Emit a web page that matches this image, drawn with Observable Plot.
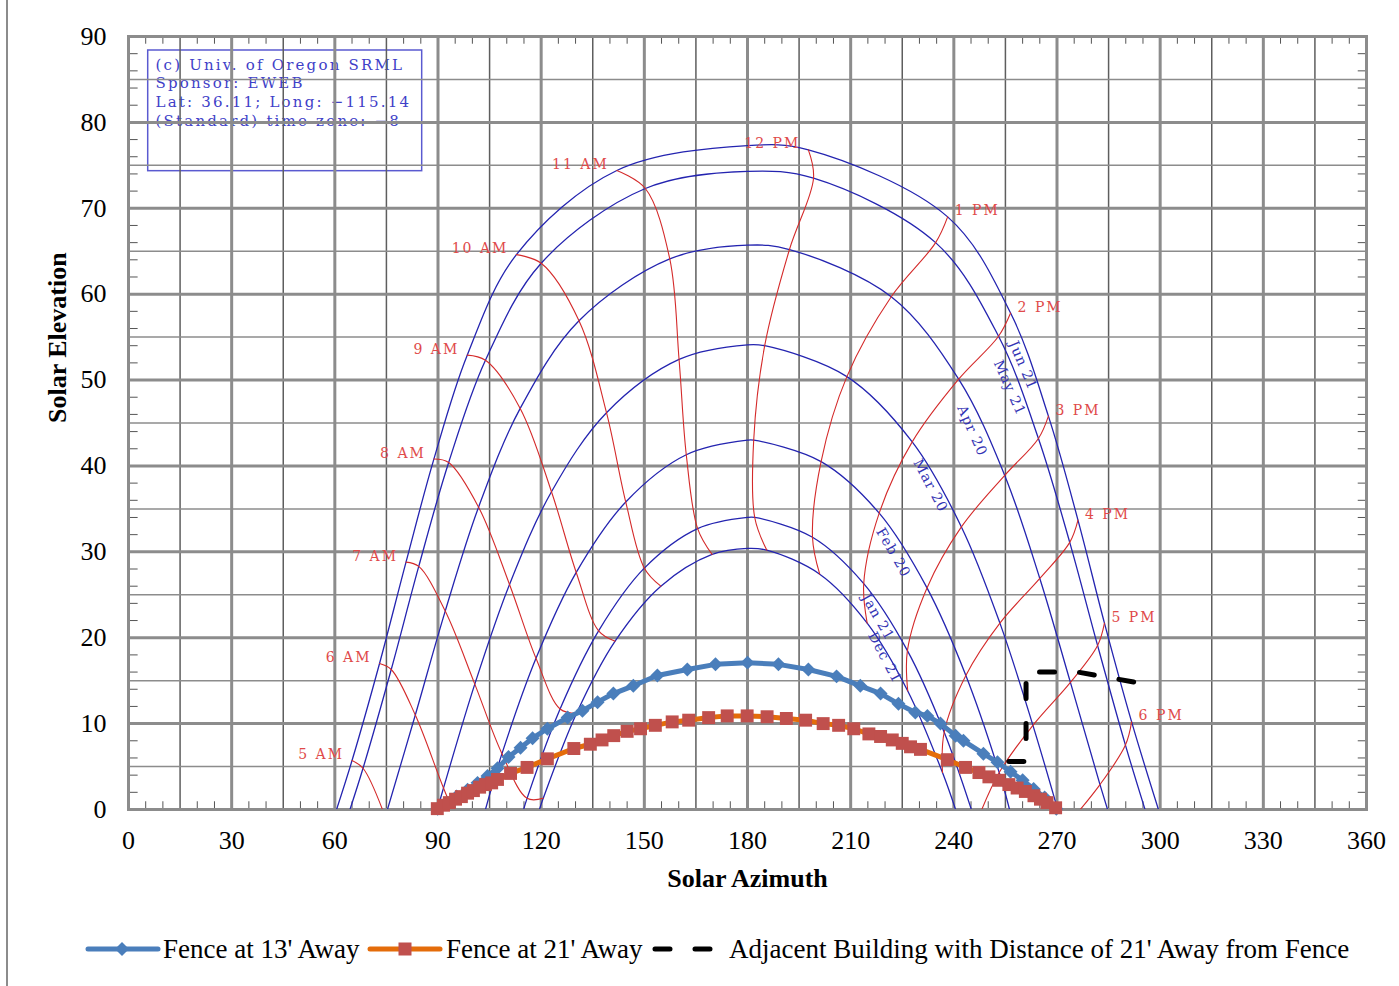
<!DOCTYPE html>
<html>
<head>
<meta charset="utf-8">
<script src="https://cdn.jsdelivr.net/npm/d3@7"></script>
<script src="https://cdn.jsdelivr.net/npm/@observablehq/plot@0.6"></script>
<style>
  body { margin: 0; background: #fff; overflow: hidden; }
  #wrap { position: relative; width: 1399px; height: 986px; }
  #edge { position: absolute; left: 6px; top: 0; width: 2px; height: 986px; background: #8c8c8c; }
  #legend { display: block; }
</style>
</head>
<body>
<div id="wrap"></div>
<script>
// Sun path dates (blue curves), Las Vegas, lat 36.11 / long -115.14
const dates = ["Jun 21", "May 21", "Apr 20", "Mar 20", "Feb 20", "Jan 21", "Dec 21"];
const sunriseAz = [60.5, 64.4, 75.3, 89.8, 103.8, 114.9, 119.5];
const sunsetAz = [299.5, 295.6, 284.7, 270.2, 256.2, 245.1, 240.5];
const noonEl = [77.3, 74.3, 65.7, 54.1, 43.0, 34.0, 30.4];

// Hour lines (red), standard time
const hourLabels = ["5 AM", "6 AM", "7 AM", "8 AM", "9 AM", "10 AM", "11 AM",
                    "12 PM", "1 PM", "2 PM", "3 PM", "4 PM", "5 PM", "6 PM"];

// Sun position [azimuth, elevation] at each hour above (null = not drawn)
const jun21 = [[65.0, 5.7], [73.0, 17.0], [80.7, 28.8], [88.8, 40.8], [98.5, 52.9], [112.8, 64.6], [142.0, 74.4],
               [197.7, 76.8], [238.2, 69.0], [256.5, 57.8], [267.5, 45.8], [276.1, 33.7], [283.8, 21.7], [291.7, 10.2]];
const may21 = [[68.2, 4.8], [76.4, 16.3], [84.4, 28.3], [93.1, 40.4], [103.8, 52.3], [120.0, 63.6], [150.3, 72.3],
               [199.2, 73.5], [234.7, 66.0], [253.0, 55.1], [264.6, 43.2], [273.7, 31.1], [281.8, 19.1], [289.9, 7.5]];
const apr20 = [[74.7, -0.9], [83.4, 11.0], [92.1, 23.1], [101.8, 35.2], [113.9, 46.7], [131.0, 56.9], [157.4, 64.1],
               [192.2, 65.2], [221.8, 59.7], [241.4, 50.1], [254.8, 38.9], [265.0, 26.9], [273.9, 14.8], [282.5, 2.9]];
const mar20 = [null, [91.6, 2.5], [100.7, 14.6], [110.8, 26.2], [123.0, 37.0], [139.0, 46.2], [160.1, 52.4],
               [185.0, 54.0], [208.9, 50.4], [227.9, 42.8], [242.2, 32.9], [253.4, 21.7], [263.0, 9.8], [271.9, -2.3]];
const feb20 = [null, [99.7, -5.3], [108.6, 6.5], [118.5, 17.6], [130.2, 27.6], [144.6, 35.8], [162.2, 41.3],
               [181.8, 43.0], [201.4, 40.5], [218.3, 34.5], [232.2, 25.8], [243.5, 15.6], [253.2, 4.3], null];
const jan21 = [null, null, [115.9, 1.3], [125.5, 11.7], [136.7, 20.8], [150.0, 28.1], [165.5, 32.7],
               [182.1, 34.0], [198.9, 31.7], [213.8, 26.3], [226.5, 18.5], [237.2, 9.0], [246.4, -1.7], null];
const dec21 = [null, null, [120.6, 1.3], [130.3, 11.2], [141.5, 19.6], [154.8, 26.0], [169.7, 29.7],
               [185.6, 30.2], [201.0, 27.4], [214.8, 21.7], [226.6, 13.8], [236.7, 4.3], null, null];
const dateTables = [jun21, may21, apr20, mar20, feb20, jan21, dec21];

// Shading obstructions [azimuth, elevation]
const fence13 = [[89.9, 0.1], [92.8, 0.8], [95.4, 1.5], [98.6, 2.3], [101.5, 3.1], [104.4, 3.9], [107.3, 4.8],
  [110.5, 6.1], [114.0, 7.2], [117.5, 8.3], [121.8, 9.4], [127.7, 10.7], [132.0, 11.5], [136.4, 12.5],
  [141.0, 13.5], [146.8, 14.4], [153.8, 15.6], [162.5, 16.3], [170.7, 16.9], [180.0, 17.1], [189.0, 16.9],
  [197.7, 16.3], [205.9, 15.5], [212.8, 14.4], [218.7, 13.5], [223.9, 12.3], [228.8, 11.3], [232.3, 10.9],
  [236.1, 10.0], [240.5, 8.6], [242.8, 8.0], [248.6, 6.5], [252.7, 5.5], [256.5, 4.4], [260.0, 3.4],
  [263.2, 2.4], [266.4, 1.4], [269.8, 0.1]];
const fence21 = [[89.8, 0.1], [91.6, 0.5], [93.3, 0.8], [95.1, 1.2], [96.8, 1.5], [98.6, 1.9], [100.3, 2.2],
  [102.1, 2.6], [103.8, 2.9], [105.6, 3.1], [107.3, 3.5], [111.1, 4.2], [115.9, 4.9], [121.8, 5.9],
  [129.5, 7.1], [134.3, 7.6], [137.7, 8.1], [141.1, 8.6], [145.0, 9.1], [148.9, 9.4], [153.2, 9.8],
  [158.1, 10.2], [162.9, 10.4], [168.7, 10.7], [174.1, 10.9], [179.9, 10.9], [185.7, 10.8], [191.3, 10.6],
  [196.9, 10.4], [202.0, 10.0], [206.5, 9.8], [210.9, 9.4], [215.3, 8.8], [218.7, 8.5], [222.1, 8.1],
  [225.0, 7.7], [227.4, 7.3], [230.3, 7.0], [238.1, 5.8], [243.4, 4.9], [247.3, 4.3], [250.2, 3.8],
  [253.1, 3.4], [256.0, 2.9], [258.4, 2.5], [260.8, 2.1], [263.3, 1.6], [265.2, 1.2], [267.1, 0.8], [269.6, 0.2]];
const building = [[256.0, 5.6], [261.0, 5.6], [261.0, 16.0], [276.0, 16.0], [294.4, 14.7]];

const infoLines = ["(c) Univ. of Oregon SRML", "Sponsor: EWEB", "Lat: 36.11; Long: \u2212115.14", "(Standard) time zone: \u22128"];

const seriesNames = ["Fence at 13' Away", "Fence at 21' Away", "Adjacent Building with Distance of 21' Away from Fence"];

// ---- derived tables ----
const datePaths = dates.flatMap((name, k) => {
  const pts = dateTables[k].filter(p => p && p[1] >= 0).map(p => ({az: p[0], el: p[1]}));
  pts.push({az: sunriseAz[k], el: 0}, {az: 180, el: noonEl[k]}, {az: sunsetAz[k], el: 0});
  pts.sort((a, b) => a.az - b.az);
  return pts.map(p => ({...p, date: name}));
});

const hourPaths = hourLabels.flatMap((label, h) => {
  const pts = [];
  for (const t of dateTables) {
    const p = t[h];
    if (!p) break;
    pts.push({az: p[0], el: p[1], hour: label});
    if (p[1] < 0) break;
  }
  return pts;
});

const hourTops = hourLabels.map((label, h) => ({az: jun21[h][0], el: jun21[h][1], label, h}));

const pts = arr => arr.map(([az, el]) => ({az, el}));

const dateLabels = [
  {az: 260.1, el: 51.7, rot: 67, text: dates[0]},
  {az: 256.2, el: 49.1, rot: 66, text: dates[1]},
  {az: 245.3, el: 44.1, rot: 66, text: dates[2]},
  {az: 233.2, el: 37.7, rot: 62, text: dates[3]},
  {az: 222.4, el: 29.9, rot: 60, text: dates[4]},
  {az: 217.9, el: 22.4, rot: 60, text: dates[5]},
  {az: 219.9, el: 17.7, rot: 62, text: dates[6]}
];

const serif = "'Liberation Serif', 'Times New Roman', serif";
const plotter = "'DejaVu Serif', serif";
const minorX = d3.range(5, 360, 5).filter(v => v % 15);
const minorY = d3.range(2, 90, 2).filter(v => v % 10);
const ink = {stroke: "#555", strokeWidth: 1};

const chart = Plot.plot({
  width: 1399,
  height: 910,
  marginLeft: 128,
  marginRight: 33,
  marginTop: 36,
  marginBottom: 101,
  style: {fontFamily: serif, fontSize: "26px", background: "white", color: "black"},
  x: {domain: [0, 360], ticks: d3.range(0, 361, 30), tickSize: 0, tickPadding: 21, label: null},
  y: {domain: [0, 90], ticks: d3.range(0, 91, 10), tickSize: 0, tickPadding: 22, label: null},
  marks: [
    // info box
    Plot.rect([{x1: 5.73, x2: 85.4, y1: 74.32, y2: 88.37}], {x1: "x1", x2: "x2", y1: "y1", y2: "y2", fill: "white", stroke: "#5a5ad0", strokeWidth: 1.5}),
    Plot.text(infoLines, {x: 7.85, y: (d, i) => 86.7 - i * 2.17, text: d => d, textAnchor: "start", fill: "#4040c8", fontSize: 15, fontFamily: plotter}),

    // grid
    Plot.ruleX(d3.range(15, 360, 30), {stroke: "#5e5e5e", strokeWidth: 1.5}),
    Plot.ruleY(d3.range(5, 90, 10), {stroke: "#8c8c8c", strokeWidth: 1.5}),
    Plot.ruleX(d3.range(30, 360, 30), {stroke: "#8c8c8c", strokeWidth: 3}),
    Plot.ruleY(d3.range(10, 90, 10), {stroke: "#8c8c8c", strokeWidth: 3}),
    Plot.ruleX(minorX, {y1: 0, y2: 0.9, ...ink}),
    Plot.ruleX(minorX, {y1: 89.1, y2: 90, ...ink}),
    Plot.ruleY(minorY, {x1: 0, x2: 2.8, ...ink}),
    Plot.ruleY(minorY, {x1: 357.6, x2: 360, ...ink}),
    Plot.frame({stroke: "#8c8c8c", strokeWidth: 3}),

    // sun path diagram
    Plot.line(datePaths, {x: "az", y: "el", z: "date", stroke: "#2424b0", strokeWidth: 1.3, curve: "catmull-rom", clip: true}),
    Plot.line(hourPaths, {x: "az", y: "el", z: "hour", stroke: "#d42a2a", strokeWidth: 1.1, curve: "catmull-rom", clip: true}),
    Plot.text(hourTops.filter(d => d.h <= 7), {x: "az", y: "el", text: "label", textAnchor: "end", dx: -8, dy: -6, fill: "#e04a4a", fontSize: 14, fontFamily: plotter}),
    Plot.text(hourTops.filter(d => d.h > 7), {x: "az", y: "el", text: "label", textAnchor: "start", dx: 7, dy: -6, fill: "#e04a4a", fontSize: 14, fontFamily: plotter}),
    Plot.text(dateLabels, {x: "az", y: "el", text: "text", rotate: "rot", fill: "#3434b4", fontSize: 14, fontFamily: plotter}),

    // obstructions
    Plot.line(pts(fence13), {x: "az", y: "el", stroke: "#4a7ebb", strokeWidth: 5, strokeLinejoin: "round", strokeLinecap: "round"}),
    Plot.dot(pts(fence13), {x: "az", y: "el", symbol: "diamond2", r: 6.3, fill: "#4a7ebb", stroke: "none"}),
    Plot.line(pts(fence21), {x: "az", y: "el", stroke: "#e46c0a", strokeWidth: 5, strokeLinejoin: "round", strokeLinecap: "round"}),
    Plot.dot(pts(fence21), {x: "az", y: "el", symbol: "square", r: 7.3, fill: "#c0504d", stroke: "none"}),
    Plot.line(pts(building), {x: "az", y: "el", stroke: "black", strokeWidth: 5, strokeDasharray: "15,25", strokeLinecap: "round", strokeLinejoin: "round"}),

    // axis titles
    Plot.text(["Solar Azimuth"], {frameAnchor: "bottom", dy: 77, text: d => d, fontWeight: "bold", fontSize: 26, fontFamily: serif}),
    Plot.text(["Solar Elevation"], {frameAnchor: "left", dx: -71, rotate: -90, text: d => d, fontWeight: "bold", fontSize: 26, fontFamily: serif})
  ]
});

// letter spacing for the plotter-style annotations
const spacing = new Map([
  ...hourLabels.map(t => [t, 2]),
  ...dates.map(t => [t, 1]),
  ...infoLines.map(t => [t, 2.2])
]);
d3.select(chart).selectAll("text").each(function() {
  const s = spacing.get(this.textContent);
  if (s != null) this.style.letterSpacing = s + "px";
});

const wrap = document.getElementById("wrap");
wrap.appendChild(chart);

// legend below the plot
const legend = d3.create("svg").attr("id", "legend").attr("width", 1399).attr("height", 76)
  .style("font-family", serif).style("font-size", "27px");
const ly = 39, ty = 48;
legend.append("line").attr("x1", 88).attr("x2", 158).attr("y1", ly).attr("y2", ly)
  .attr("stroke", "#4a7ebb").attr("stroke-width", 5).attr("stroke-linecap", "round");
legend.append("path").attr("d", `M122,${ly - 7}L129,${ly}L122,${ly + 7}L115,${ly}Z`).attr("fill", "#4a7ebb");
legend.append("text").attr("x", 163).attr("y", ty).text(seriesNames[0]);
legend.append("line").attr("x1", 370).attr("x2", 440).attr("y1", ly).attr("y2", ly)
  .attr("stroke", "#e46c0a").attr("stroke-width", 5).attr("stroke-linecap", "round");
legend.append("rect").attr("x", 398.5).attr("y", ly - 6.5).attr("width", 13).attr("height", 13).attr("fill", "#c0504d");
legend.append("text").attr("x", 446).attr("y", ty).text(seriesNames[1]);
legend.append("line").attr("x1", 655).attr("x2", 712).attr("y1", ly).attr("y2", ly)
  .attr("stroke", "black").attr("stroke-width", 5).attr("stroke-linecap", "round").attr("stroke-dasharray", "15,25");
legend.append("text").attr("x", 729).attr("y", ty).text(seriesNames[2]);
wrap.appendChild(legend.node());

const edge = document.createElement("div");
edge.id = "edge";
wrap.appendChild(edge);
</script>
</body>
</html>
